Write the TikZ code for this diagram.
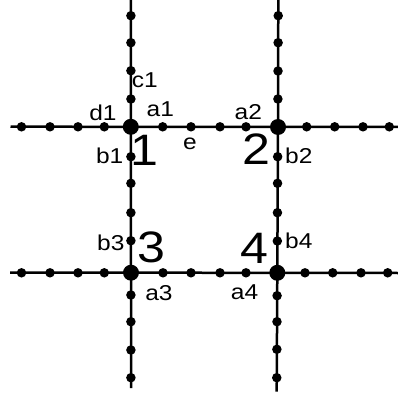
\documentclass[tikz,border=0pt]{standalone}
\usepackage{fontspec}
\setmainfont{Liberation Sans}
\newcommand{\wide}[1]{\scalebox{1.14}[1]{#1}}
\begin{document}
\begin{tikzpicture}[x=1pt,y=-1pt,
  line/.style={line width=2.5pt},
  dot/.style={circle,fill=black,inner sep=0pt,minimum size=9.5pt},
  hub/.style={circle,fill=black,inner sep=0pt,minimum size=16pt},
  lbl/.style={inner sep=0pt,anchor=base,font=\fontsize{21.5}{21.5}\selectfont},
  num/.style={inner sep=0pt,anchor=base,font=\fontsize{44}{44}\selectfont}]
\useasboundingbox (0,0) rectangle (398,395);
% line ends
\coordinate (h1w) at (10.5,126.7);
\coordinate (h1e) at (398,127);
\coordinate (h2w) at (10,272.7);
\coordinate (h2e) at (398,273);
\coordinate (v1n) at (130.8,0);
\coordinate (v1s) at (131,388);
\coordinate (v2n) at (278.3,0);
\coordinate (v2s) at (276.7,391.7);
% hubs
\node[hub] (n1) at (130.8,126.8) {};
\node[hub] (n2) at (278,127) {};
\node[hub] (n3) at (131,272.7) {};
\node[hub] (n4) at (277.3,272.8) {};
% lines
\draw[line] (h1w) -- (n1.center) -- (n2.center) -- (h1e);
\draw[line] (h2w) -- (n3.center) -- (n4.center) -- (h2e);
\draw[line] (v1n) -- (n1.center) -- (n3.center) -- (v1s);
\draw[line] (v2n) -- (n2.center) -- (n4.center) -- (v2s);
% dots
\foreach \x [count=\i] in {21.5,50,78,104.3,162.7,191,220,246,306.7,334.7,363,389.3}
  \node[dot] (ha\i) at (\x,126.8) {};
\foreach \x [count=\i] in {21.5,50,78,104.3,163,191,220,246,305,332.7,361,387.7}
  \node[dot] (hb\i) at (\x,272.8) {};
\foreach \y [count=\i] in {15.7,42.7,70.7,99,156.7,183.3,212.7,240.7,295,321.7,350,377.7}
  \node[dot] (va\i) at (130.9,\y) {};
\foreach \y [count=\i] in {15.7,42.7,71,99,156.7,183.3,212.7,241,295.7,321.7,349.3,377.7}
  \node[dot] (vb\i) at ({278.3-1.6*\y/391.7},\y) {};
% labels
\node[lbl] (c1) at (144.7,87.3) {\wide{c1}};
\node[lbl] (d1) at (103,121) {\wide{d1}};
\node[lbl] (a1) at (160.3,117) {\wide{a1}};
\node[lbl] (e) at (190,150) {\wide{e}};
\node[lbl] (b1) at (109.7,163.3) {\wide{b1}};
\node[lbl] (a2) at (248.3,119.5) {\wide{a2}};
\node[lbl] (b2) at (298.8,163.3) {\wide{b2}};
\node[lbl] (b3) at (110.8,250) {\wide{b3}};
\node[lbl] (a3) at (159,300) {\wide{a3}};
\node[lbl] (b4) at (298.8,248) {\wide{b4}};
\node[lbl] (a4) at (244.5,299.3) {\wide{a4}};
\node[num] (L1) at (144.5,166) {\wide{1}};
\node[num] (L2) at (256.7,165) {\wide{2}};
\node[num] (L3) at (151.5,262) {\wide{3}};
\node[num] (L4) at (254.5,263) {\wide{4}};
\end{tikzpicture}
\end{document}
